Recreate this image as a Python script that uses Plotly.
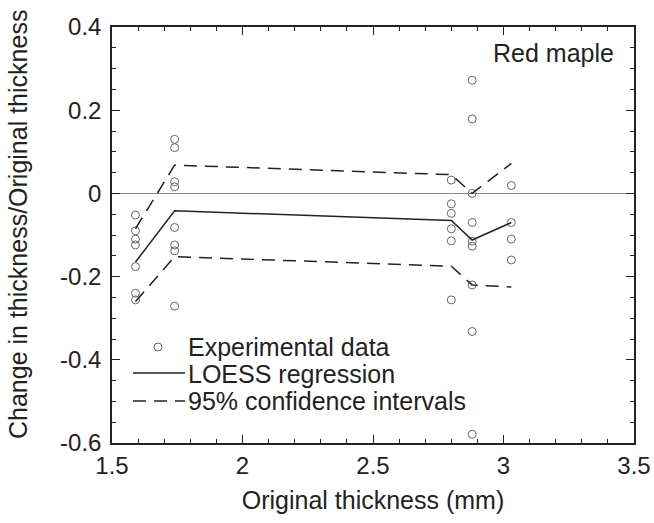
import plotly.graph_objects as go

# ---- data ----
col_x = [1.59, 1.74, 2.80, 2.88, 3.03]
exp_y_c1 = [-0.052, -0.090, -0.110, -0.124, -0.176, -0.240, -0.256]
exp_y_c2 = [0.130, 0.110, 0.028, 0.016, -0.082, -0.124, -0.138, -0.271]
exp_y_c3 = [0.032, -0.025, -0.048, -0.085, -0.114, -0.256]
exp_y_c4 = [0.272, 0.179, 0.0, -0.070, -0.115, -0.127, -0.220, -0.332, -0.579]
exp_y_c5 = [0.019, -0.070, -0.110, -0.160]

loess_y = [-0.165, -0.042, -0.065, -0.112, -0.070]
upper_ci = [-0.085, 0.068, 0.045, 0.0, 0.072]
lower_ci = [-0.260, -0.152, -0.175, -0.220, -0.225]

x_tickvals = [1.5, 2.0, 2.5, 3.0, 3.5]
x_ticktext = ["1.5", "2", "2.5", "3", "3.5"]
y_tickvals = [0.4, 0.2, 0.0, -0.2, -0.4, -0.6]
y_ticktext = ["0.4", "0.2", "0", "-0.2", "-0.4", "-0.6"]

legend_labels = ["Experimental data", "LOESS regression", "95% confidence intervals"]

# ---- build ----
exp_cols = [exp_y_c1, exp_y_c2, exp_y_c3, exp_y_c4, exp_y_c5]
ex, ey = [], []
for xv, ys in zip(col_x, exp_cols):
    for yv in ys:
        ex.append(xv)
        ey.append(yv)

INK = "#222222"
MARK = "#666666"
FONT = "Liberation Sans, Arial, sans-serif"

W, H = 654, 523
ML, MR, MT, MB = 112, 20, 27, 80
PW, PH = W - ML - MR, H - MT - MB

def px(xp):
    return (xp - ML) / PW

def py(yp):
    return (H - MB - yp) / PH

fig = go.Figure()
fig.add_trace(go.Scatter(x=ex, y=ey, mode="markers", name=legend_labels[0],
                         marker=dict(symbol="circle-open", size=8, color=MARK,
                                     line=dict(width=1, color=MARK)),
                         showlegend=False))
fig.add_trace(go.Scatter(x=col_x, y=loess_y, mode="lines", name=legend_labels[1],
                         line=dict(color=INK, width=1.5), showlegend=False))
fig.add_trace(go.Scatter(x=col_x, y=upper_ci, mode="lines", name=legend_labels[2],
                         line=dict(color=INK, width=1.5, dash="13px,8px"), showlegend=False))
fig.add_trace(go.Scatter(x=col_x, y=lower_ci, mode="lines", name=legend_labels[2],
                         line=dict(color=INK, width=1.5, dash="13px,8px"), showlegend=False))

# custom legend (drawn in paper coordinates)
shapes = [
    dict(type="circle", xref="paper", yref="paper",
         x0=px(154), x1=px(162), y0=py(351), y1=py(343),
         line=dict(color=MARK, width=1)),
    dict(type="line", xref="paper", yref="paper",
         x0=px(133), x1=px(185), y0=py(373), y1=py(373),
         line=dict(color=INK, width=1.5)),
    dict(type="line", xref="paper", yref="paper",
         x0=px(133), x1=px(185), y0=py(401), y1=py(401),
         line=dict(color=INK, width=1.5, dash="13px,8px")),
]
annotations = []
for lbl, yp in zip(legend_labels, [347, 374, 401]):
    annotations.append(dict(text=lbl, xref="paper", yref="paper", x=px(186), y=py(yp),
                            xanchor="left", yanchor="middle", showarrow=False,
                            font=dict(size=25, color=INK, family=FONT)))
annotations.append(dict(text="Red maple", xref="paper", yref="paper", x=px(616), y=py(53),
                        xanchor="right", yanchor="middle", showarrow=False,
                        font=dict(size=25, color=INK, family=FONT)))
annotations.append(dict(text="Change in thickness/Original thickness", xref="paper", yref="paper",
                        x=px(18), y=py(225), xanchor="center", yanchor="middle",
                        textangle=-90, showarrow=False,
                        font=dict(size=25, color=INK, family=FONT)))

axis_common = dict(showgrid=False, showline=True, linecolor=INK, linewidth=1.5,
                   mirror="allticks", ticks="inside", ticklen=8, tickwidth=1.2, tickcolor=INK,
                   tickfont=dict(size=24, color=INK, family=FONT))

fig.update_layout(
    width=W, height=H,
    margin=dict(l=ML, r=MR, t=MT, b=MB, autoexpand=False),
    paper_bgcolor="white", plot_bgcolor="white",
    font=dict(family=FONT, color=INK),
    shapes=shapes, annotations=annotations,
    xaxis=dict(range=[1.5, 3.5], tickvals=x_tickvals, ticktext=x_ticktext,
               minor=dict(dtick=0.1, ticks="inside", ticklen=4, tickwidth=1, tickcolor=INK),
               zeroline=False,
               title=dict(text="Original thickness (mm)", standoff=14,
                          font=dict(size=25, color=INK, family=FONT)),
               **axis_common),
    yaxis=dict(range=[-0.6, 0.4], tickvals=y_tickvals, ticktext=y_ticktext,
               minor=dict(dtick=0.05, ticks="inside", ticklen=4, tickwidth=1, tickcolor=INK),
               zeroline=True, zerolinecolor="#8a8a8a", zerolinewidth=1,
               ticklabelstandoff=4,
               **axis_common),
)

fig.write_html("out.html",
               config={"displayModeBar": False},
               post_script="document.body.style.margin='0px';document.body.style.overflow='hidden';")
